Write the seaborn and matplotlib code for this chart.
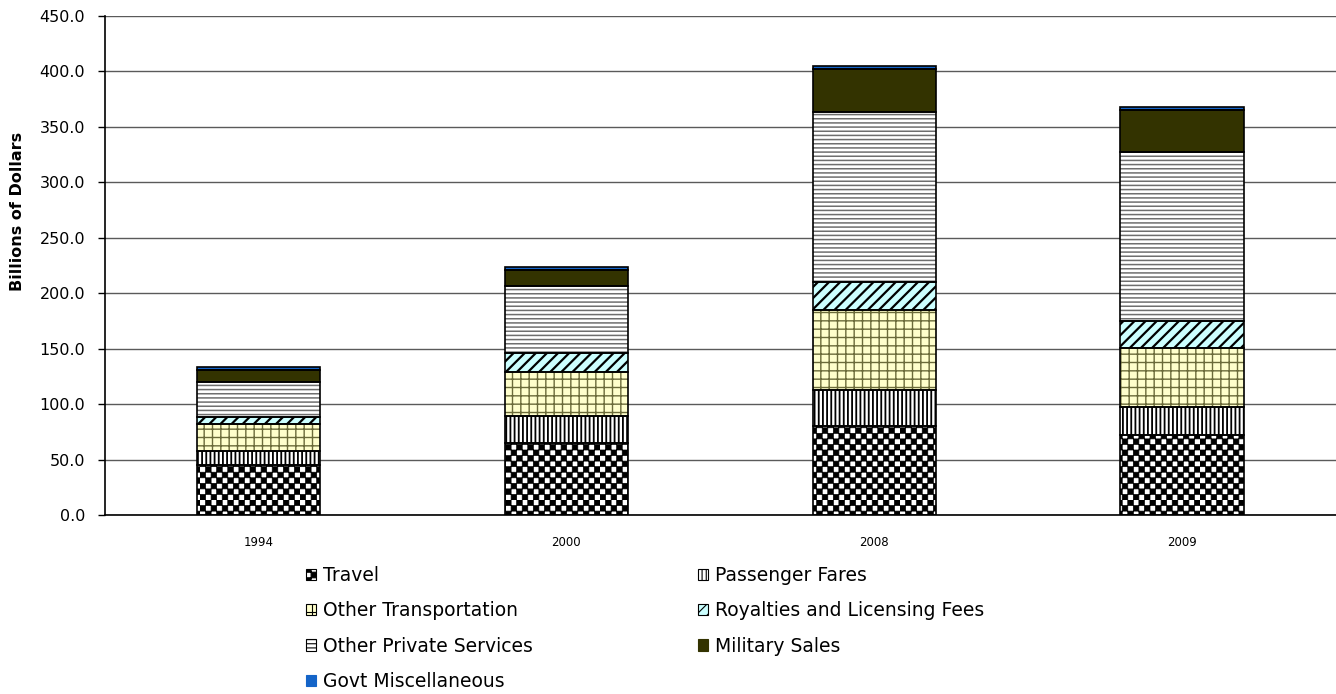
import warnings

import numpy as np
import pandas as pd
import matplotlib
matplotlib.use("Agg")
import matplotlib.pyplot as plt
import matplotlib.hatch as mhatch
from matplotlib.path import Path
from matplotlib.patches import Patch
from matplotlib.ticker import FormatStrFormatter
import seaborn as sns

warnings.filterwarnings("ignore")

# ---------------------------------------------------------------- data
years = ["1994", "2000", "2008", "2009"]

travel = [45.0, 65.2, 80.3, 72.1]
passenger_fares = [13.0, 24.1, 32.4, 25.6]
other_transportation = [23.8, 39.9, 72.2, 52.6]
royalties_licensing = [6.8, 17.1, 25.5, 24.9]
other_private_services = [31.6, 60.5, 152.7, 151.9]
military_sales = [11.0, 14.1, 39.0, 38.1]
govt_miscellaneous = [2.5, 2.5, 3.0, 3.0]

series_names = [
    "Travel",
    "Passenger Fares",
    "Other Transportation",
    "Royalties and Licensing Fees",
    "Other Private Services",
    "Military Sales",
    "Govt Miscellaneous",
]
series_values = [
    travel,
    passenger_fares,
    other_transportation,
    royalties_licensing,
    other_private_services,
    military_sales,
    govt_miscellaneous,
]

y_ticks = [0, 50, 100, 150, 200, 250, 300, 350, 400, 450]


# ------------------------------------------------- checkerboard hatch 'c'
class CheckerHatch(mhatch.HatchPatternBase):
    """Filled squares on alternate cells of an n x n grid."""
    filled = True

    def __init__(self, hatch, density):
        n = int(hatch.count("c") * density)
        self.cells = n - n % 2
        self.num_vertices = (self.cells ** 2 // 2) * 5

    def set_vertices_and_codes(self, vertices, codes):
        n = self.cells
        s = 1.0 / n
        square = np.array([[0, 0], [1, 0], [1, 1], [0, 1], [0, 0]], float)
        k = 0
        for i in range(n):
            for j in range(n):
                if (i + j) % 2 == 0:
                    vertices[k:k + 5] = (square + [i, j]) * s
                    codes[k:k + 5] = [Path.MOVETO, Path.LINETO, Path.LINETO,
                                      Path.LINETO, Path.CLOSEPOLY]
                    k += 5


mhatch._hatch_types.append(CheckerHatch)

# fill colour, hatch, hatch colour, hatch line width per series
styles = {
    "Travel": ("white", "ccc", "black", 0.5),
    "Passenger Fares": ("white", "||||", "black", 1.3),
    "Other Transportation": ("#FFFFCC", "++", "#6B6B3A", 1.0),
    "Royalties and Licensing Fees": ("#CCFFFF", "///", "black", 1.6),
    "Other Private Services": ("white", "----", "#6E6E6E", 1.1),
    "Military Sales": ("#333300", None, "#333300", 1.0),
    "Govt Miscellaneous": ("#1464C8", None, "#1464C8", 1.0),
}

# ---------------------------------------------------------------- frames
wide = pd.DataFrame(dict(zip(series_names, series_values)), index=years)
bottoms = wide.cumsum(axis=1).shift(axis=1, fill_value=0.0)
long = (wide.reset_index().rename(columns={"index": "year"})
        .melt(id_vars="year", var_name="series", value_name="value"))

# ---------------------------------------------------------------- figure
sns.set_style("white")
plt.rcParams["font.family"] = ["DejaVu Sans"]
plt.rcParams["text.color"] = "black"

fig = plt.figure(figsize=(13.36, 6.94), dpi=100)
ax = fig.add_axes([104.5 / 1336, 1 - 515 / 694, 1 - 104.5 / 1336, 499 / 694])


def set_hatch_lw(patches, lw):
    for p in patches:
        if hasattr(p, "set_hatch_linewidth"):
            p.set_hatch_linewidth(lw)


for name in series_names:
    face, hatch, hcolor, hlw = styles[name]
    sub = long[long["series"] == name]
    n_before = len(ax.patches)
    with plt.rc_context({"hatch.linewidth": hlw}):
        sns.barplot(data=sub, x="year", y="value", order=years,
                    color=face, saturation=1, width=0.4, errorbar=None,
                    bottom=bottoms[name].values, edgecolor=hcolor,
                    linewidth=0, hatch=hatch, ax=ax, zorder=2)
    set_hatch_lw(ax.patches[n_before:], hlw)
    # black outline of each segment
    sns.barplot(data=sub, x="year", y="value", order=years,
                color="black", fill=False, width=0.4, errorbar=None,
                bottom=bottoms[name].values, linewidth=1.2, ax=ax, zorder=3)

# ---------------------------------------------------------------- axes
ax.set_ylim(0, 450)
ax.set_xlim(-0.5, len(years) - 0.5)
ax.set_yticks(y_ticks)
ax.yaxis.set_major_formatter(FormatStrFormatter("%.1f"))
ax.set_axisbelow(True)
ax.yaxis.grid(True, color="#5A5A5A", linewidth=1.0)
ax.xaxis.grid(False)

for side in ("top", "right"):
    ax.spines[side].set_visible(False)
for side in ("left", "bottom"):
    ax.spines[side].set_color("black")
    ax.spines[side].set_linewidth(1.2)

ax.set_xticks(np.arange(len(years)))
ax.set_xticklabels(years)
ax.set_xticks(np.arange(len(years) - 1) + 0.5, minor=True)
ax.tick_params(axis="x", which="major", length=0, pad=15, labelsize=8.5,
               labelcolor="black")
ax.tick_params(axis="x", which="minor", length=5, width=1, color="#444444",
               direction="out")
ax.tick_params(axis="y", which="major", length=5, width=1, color="black",
               direction="out", pad=9, labelsize=11.5, labelcolor="black",
               left=True)
ax.set_xlabel("")
ax.set_ylabel("Billions of Dollars", fontsize=11.5, fontweight="bold",
              color="black")
ax.yaxis.set_label_coords(-(104.5 - 25) / 1231.5, (515 - 211) / 499)

# ---------------------------------------------------------------- legend
handles = {}
for name in series_names:
    face, hatch, hcolor, hlw = styles[name]
    edge = "black" if hatch else face
    handles[name] = Patch(facecolor=face, edgecolor=edge, hatch=hatch,
                          linewidth=0.8, label=name)

legend_order = [
    "Travel", "Other Transportation", "Other Private Services",
    "Govt Miscellaneous",
    "Passenger Fares", "Royalties and Licensing Fees", "Military Sales",
]
with plt.rc_context({"hatch.linewidth": 0.8}):
    leg = fig.legend([handles[n] for n in legend_order], legend_order,
                     ncol=2, loc="upper left",
                     bbox_to_anchor=(306 / 1336, 1 - 566 / 694),
                     frameon=False, fontsize=13.5, handlelength=0.55,
                     handleheight=0.55, handletextpad=0.35, columnspacing=8.8,
                     labelspacing=0.87, borderpad=0, borderaxespad=0,
                     labelcolor="black")

fig.savefig("out.png", dpi=100)
